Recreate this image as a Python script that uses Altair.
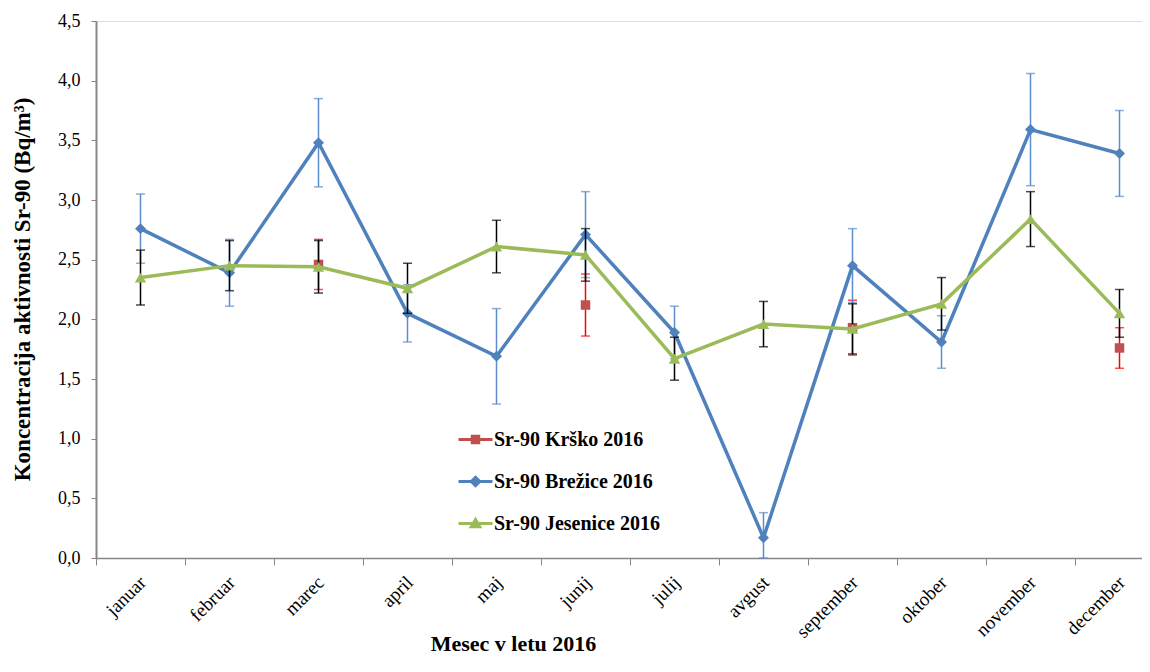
import altair as alt
import pandas as pd

months = ["januar", "februar", "marec", "april", "maj", "junij", "julij",
          "avgust", "september", "oktober", "november", "december"]

S_KRS = "Sr-90 Krško 2016"
S_BRE = "Sr-90 Brežice 2016"
S_JES = "Sr-90 Jesenice 2016"
series_order = [S_KRS, S_BRE, S_JES]
series_colors = ["#C0504D", "#4F81BD", "#9BBB59"]

krsko_months = ["marec", "junij", "september", "december"]
krsko_vals = [2.46, 2.12, 1.93, 1.76]
krsko_err = [0.21, 0.26, 0.23, 0.17]

brezice_vals = [2.76, 2.39, 3.48, 2.05, 1.69, 2.71, 1.89, 0.17, 2.45, 1.81, 3.59, 3.39]
brezice_err = [0.29, 0.28, 0.37, 0.24, 0.40, 0.36, 0.22, 0.21, 0.31, 0.22, 0.47, 0.36]

jesenice_vals = [2.35, 2.45, 2.44, 2.26, 2.61, 2.54, 1.67, 1.96, 1.92, 2.13, 2.84, 2.05]
jesenice_err = [0.23, 0.21, 0.22, 0.21, 0.22, 0.22, 0.18, 0.19, 0.21, 0.22, 0.23, 0.20]

y_ticks = [0, 0.5, 1, 1.5, 2, 2.5, 3, 3.5, 4, 4.5]

rows = []
for m, v, e in zip(krsko_months, krsko_vals, krsko_err):
    rows.append(dict(month=m, series=S_KRS, value=v, lo=v - e, hi=v + e))
for m, v, e in zip(months, brezice_vals, brezice_err):
    rows.append(dict(month=m, series=S_BRE, value=v, lo=v - e, hi=v + e))
for m, v, e in zip(months, jesenice_vals, jesenice_err):
    rows.append(dict(month=m, series=S_JES, value=v, lo=v - e, hi=v + e))
df = pd.DataFrame(rows)

FONT = "Liberation Serif"
GRAY = "#868686"

x_enc = alt.X(
    "month:N", sort=months, bandPosition=0.5,
    scale=alt.Scale(type="band", domain=months, paddingInner=0, paddingOuter=0,
                    range=[0, 1068]),
    axis=alt.Axis(
        title="Mesec v letu 2016", titleFont=FONT, titleFontSize=22, titleFontWeight="bold",
        titleColor="black", titleX=417, titleY=85, titleAlign="center", titleBaseline="middle",
        labelFont=FONT, labelFontSize=19, labelColor="black",
        labelAngle=315, labelAlign="right", labelBaseline="middle", labelPadding=14,
        labelOffset=2,
        tickBand="extent", tickSize=7, tickColor=GRAY, domainColor=GRAY, domainWidth=1.5,
        grid=False,
    ),
)

y_scale = alt.Scale(domain=[0, 4.5], clamp=True, nice=False, zero=True)
y_axis = alt.Axis(
    title="Koncentracija aktivnosti  Sr-90 (Bq/m³)", titleFont=FONT, titleFontSize=23,
    titleFontWeight="bold", titleColor="black", titleX=-62, titleY=268, titleAngle=270,
    titleAlign="center", titleBaseline="bottom",
    values=y_ticks, labelExpr="replace(format(datum.value, '.1f'), '.', ',')",
    labelFont=FONT, labelFontSize=18, labelColor="black", labelPadding=11,
    tickSize=5, tickColor=GRAY, domainColor=GRAY, domainWidth=2, grid=False,
)

# legend symbols: short line with a marker in the middle (custom paths)
P_SQ = "M-1,0H1M-0.19,-0.19H0.19V0.19H-0.19Z"
P_DI = "M-1,0H1M0,-0.25L0.25,0L0,0.25L-0.25,0Z"
P_TR = "M-1,0H1M0,-0.24L0.25,0.19L-0.25,0.19Z"
legend_shapes = [P_SQ, P_DI, P_TR]

legend = alt.Legend(
    title=None, orient="none", legendX=361, legendY=400, direction="vertical",
    labelFont=FONT, labelFontSize=20, labelFontWeight="bold", labelColor="black",
    symbolSize=1156, symbolStrokeWidth=3, symbolOpacity=1, rowPadding=13, labelOffset=0,
    padding=0, labelLimit=400,
)

color_enc = alt.Color("series:N", scale=alt.Scale(domain=series_order, range=series_colors),
                      legend=legend)

base = alt.Chart(df)


def errbars(series, color, width):
    b = base.transform_filter(alt.datum.series == series)
    rule = b.mark_rule(color=color, strokeWidth=width).encode(
        x=x_enc, y=alt.Y("lo:Q", scale=y_scale, axis=y_axis), y2="hi:Q")
    cap_lo = b.mark_tick(color=color, thickness=width, size=9).encode(
        x=x_enc, y=alt.Y("lo:Q", scale=y_scale, axis=y_axis))
    cap_hi = b.mark_tick(color=color, thickness=width, size=9).encode(
        x=x_enc, y=alt.Y("hi:Q", scale=y_scale, axis=y_axis))
    return [rule, cap_lo, cap_hi]


def line(series):
    return base.transform_filter(alt.datum.series == series).mark_line(strokeWidth=3.5).encode(
        x=x_enc, y=alt.Y("value:Q", scale=y_scale, axis=y_axis), color=color_enc)


def points(series, shape, size):
    return base.transform_filter(alt.datum.series == series).mark_point(
        shape=shape, size=size, filled=True, opacity=1, strokeWidth=0).encode(
        x=x_enc, y=alt.Y("value:Q", scale=y_scale, axis=y_axis), color=color_enc)


legend_layer = base.transform_filter("datum.value < -100").mark_point(
    filled=True, opacity=1, strokeWidth=3, size=1156).encode(
    x=x_enc, y=alt.Y("value:Q", scale=y_scale, axis=y_axis),
    color=color_enc,
    shape=alt.Shape("series:N", scale=alt.Scale(domain=series_order, range=legend_shapes),
                    legend=legend),
)

layers = [legend_layer]
layers += errbars(S_KRS, "#FF0000", 1.5)
layers.append(points(S_KRS, "square", 90))
layers += errbars(S_BRE, "#5B8CCB", 1.5)
layers.append(line(S_BRE))
layers.append(points(S_BRE, "diamond", 120))
layers += errbars(S_JES, "#000000", 1.5)
layers.append(line(S_JES))
layers.append(points(S_JES, "triangle-up", 130))

chart = alt.layer(*layers).properties(
    width=1046, height=537,
    autosize=alt.AutoSizeParams(type="none"),
    padding={"left": 88, "top": 13, "right": 0, "bottom": 98},
).configure_view(stroke=None).configure(background="white")

chart.save("out.html", embed_options={"renderer": "svg", "actions": False})
